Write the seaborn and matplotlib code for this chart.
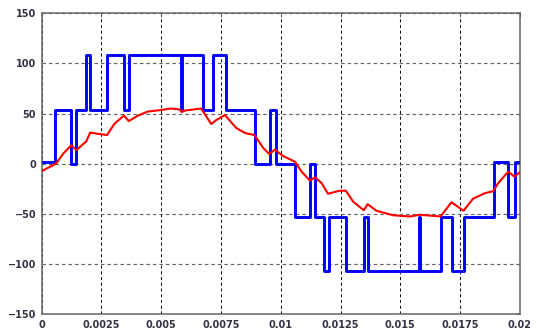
import matplotlib
matplotlib.use("Agg")
import matplotlib.pyplot as plt
import numpy as np
import pandas as pd
import seaborn as sns

# Inverter output voltage: switching instants (s) and the level held from each instant
switch_t = [0.0, 0.00057, 0.00124, 0.00145, 0.00184, 0.00203, 0.00273, 0.00344,
            0.00366, 0.00581, 0.00588, 0.00674, 0.00716, 0.00769, 0.00890, 0.00953,
            0.00978, 0.01059, 0.01122, 0.01143, 0.01180, 0.01202, 0.01272, 0.01347,
            0.01365, 0.01579, 0.01584, 0.01672, 0.01714, 0.01766, 0.01892, 0.01951,
            0.01979, 0.02]
switch_v = [2, 54, 0, 54, 108, 54, 108, 54,
            108, 54, 108, 54, 108, 54, 0, 54,
            0, -53, 0, -53, -107, -53, -107, -53,
            -107, -53, -107, -53, -107, -53, 1.5, -53,
            1.5, 1.5]

# Load current waveform samples
cur_t = [0.0, 0.0006, 0.0009, 0.00124, 0.00145, 0.00173, 0.00186, 0.00203,
         0.00242, 0.00273, 0.00305, 0.00344, 0.00364, 0.00403, 0.00444, 0.0050,
         0.0054, 0.00578, 0.00585, 0.0060, 0.00667, 0.00709, 0.0073, 0.00766,
         0.00814, 0.00851, 0.0089, 0.00927, 0.00952, 0.00975, 0.0101, 0.01059,
         0.01087, 0.01122, 0.01143, 0.01171, 0.01197, 0.01247, 0.01272, 0.01303,
         0.01347, 0.01363, 0.0140, 0.0147, 0.0154, 0.01581, 0.01668, 0.01714,
         0.01764, 0.01804, 0.01853, 0.01888, 0.01909, 0.01951, 0.01977, 0.0200]
cur_v = [-7.5, 0.0, 10, 18.5, 13.5, 19.5, 22, 31,
         29.5, 28.5, 40, 48, 42.5, 48, 52, 53.5,
         55, 54, 51.5, 53, 55, 39.5, 43.5, 48.5,
         35.5, 30.5, 28.5, 15.5, 9.5, 14, 7.5, 2,
         -8, -17, -13.5, -19.5, -30, -27, -27, -38,
         -46.5, -40.5, -47, -51.5, -52.7, -51, -52.7, -38.5,
         -47, -35, -29.5, -27.5, -19.5, -8, -13, -8.5]

x_ticks = [0, 0.0025, 0.005, 0.0075, 0.01, 0.0125, 0.015, 0.0175, 0.02]
x_labels = ["0", "0.0025", "0.005", "0.0075", "0.01", "0.0125", "0.015", "0.0175", "0.02"]
y_ticks = [-150, -100, -50, 0, 50, 100, 150]

sns.set_style("white")
plt.rcParams["font.family"] = ["DejaVu Sans"]

volt = pd.DataFrame({"t": switch_t, "v": switch_v})
curr = pd.DataFrame({"t": cur_t, "i": cur_v})

fig = plt.figure(figsize=(5.36, 3.36), dpi=100)
ax = fig.add_axes([0.0778, 0.0655, 0.8922, 0.8949])

sns.lineplot(data=volt, x="t", y="v", ax=ax, color="#0000ff", linewidth=2.1,
             drawstyle="steps-post", estimator=None, sort=False, zorder=3)
sns.lineplot(data=curr, x="t", y="i", ax=ax, color="#ff0000", linewidth=1.5,
             estimator=None, sort=False, zorder=4)

ax.set_xlim(0, 0.02)
ax.set_ylim(-150, 150)
ax.set_xticks(x_ticks)
ax.set_xticklabels(x_labels)
ax.set_yticks(y_ticks)
ax.set_xlabel("")
ax.set_ylabel("")

# dotted grid: darker verticals, greyer horizontals
ax.xaxis.grid(True, color="#111111", linestyle=(0, (3, 2.5)), linewidth=0.75)
ax.yaxis.grid(True, color="#666666", linestyle=(0, (3, 2.5)), linewidth=0.85)
ax.set_axisbelow(True)
for s in ax.spines.values():
    s.set_color("#666666")
    s.set_linewidth(1.1)
ax.tick_params(axis="both", labelsize=7, labelcolor="#333344", color="#666666",
               length=3, direction="in", pad=4)
ax.tick_params(axis="x", top=True)
ax.tick_params(axis="y", right=True)
for lbl in ax.get_xticklabels() + ax.get_yticklabels():
    lbl.set_fontweight("bold")

fig.savefig("out.png", dpi=100, facecolor="white")
